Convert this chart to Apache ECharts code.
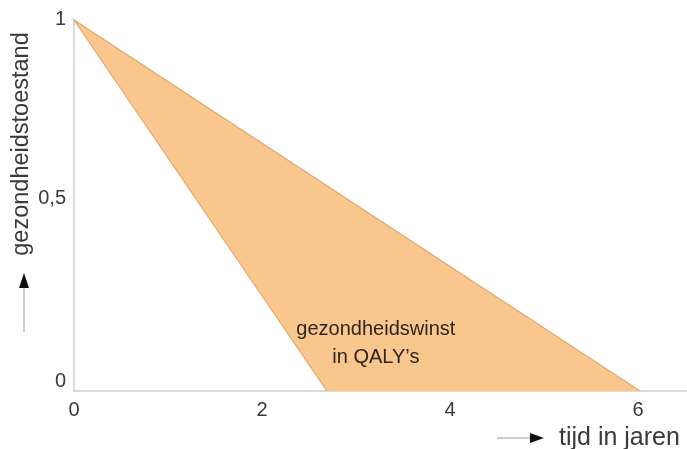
<!DOCTYPE html>
<html>
<head>
<meta charset="utf-8">
<script src="https://cdn.jsdelivr.net/npm/echarts@6/dist/echarts.min.js"></script>
<style>
html,body{margin:0;padding:0;background:#fff;}
#chart{width:687px;height:449px;}
</style>
</head>
<body>
<div id="chart"></div>
<script>
// Data
var xTicks = [0, 2, 4, 6];
var yTicks = [0, 0.5, 1];
var yTickLabels = ['0', '0,5', '1'];
// triangle vertices [tijd, gezondheidstoestand]
var apex = [0, 1];
var steepEnd = [2.69, 0];
var shallowEnd = [6.02, 0];
var areaLabel = 'gezondheidswinst\nin QALY\u2019s';
var labelPos = [3.2, 0.13];
var yName = 'gezondheidstoestand';
var xName = 'tijd in jaren';

var chart = echarts.init(document.getElementById('chart'));
var font = 'Liberation Sans, Arial, sans-serif';
var yLift = {0: 'b', 0.5: 'm', 1: 't'};

chart.setOption({
  animation: false,
  backgroundColor: '#fff',
  grid: {left: 74, right: 0, top: 20, bottom: 58},
  xAxis: {
    type: 'value', min: 0, max: 6.52, interval: 2,
    axisLine: {show: true, lineStyle: {color: '#cfcfcf', width: 1.5}},
    axisTick: {show: false},
    splitLine: {show: false},
    axisLabel: {
      fontSize: 20, color: '#3a3a3a', fontFamily: font, margin: 9,
      showMaxLabel: false,
      formatter: function (v) { return xTicks.indexOf(v) >= 0 ? String(v) : ''; }
    }
  },
  yAxis: {
    type: 'value', min: 0, max: 1, interval: 0.5,
    axisLine: {show: true, lineStyle: {color: '#cfcfcf', width: 1.5}},
    axisTick: {show: false},
    splitLine: {show: false},
    axisLabel: {
      fontSize: 20, color: '#3a3a3a', fontFamily: font, margin: 8,
      formatter: function (v) {
        var i = yTicks.indexOf(v);
        return i >= 0 ? '{' + yLift[v] + '|' + yTickLabels[i] + '}' : '';
      },
      rich: {
        b: {fontSize: 20, color: '#3a3a3a', fontFamily: font, padding: [0, 0, 20, 0]},
        m: {fontSize: 20, color: '#3a3a3a', fontFamily: font, padding: [0, 0, 14, 0]},
        t: {fontSize: 20, color: '#3a3a3a', fontFamily: font, padding: [0, 0, 2, 0]}
      }
    }
  },
  series: [{
    type: 'custom',
    coordinateSystem: 'cartesian2d',
    data: [[apex[0], apex[1]]],
    renderItem: function (params, api) {
      var a = api.coord(apex);
      var s = api.coord(steepEnd);
      var e = api.coord(shallowEnd);
      var t = api.coord(labelPos);
      return {
        type: 'group',
        children: [
          {type: 'polygon', shape: {points: [a, s, e]}, style: {fill: '#f9c68e', stroke: null}},
          {type: 'polyline', shape: {points: [s, a, e]}, style: {stroke: '#e2a66c', lineWidth: 1.2, fill: null}},
          {type: 'text', x: t[0] + 1, y: t[1] + 1, style: {
            text: areaLabel, fontSize: 20, fontFamily: font, fill: '#2e251d',
            align: 'center', verticalAlign: 'middle', lineHeight: 28
          }}
        ]
      };
    }
  }],
  graphic: [
    {type: 'text', x: 22, y: 144, rotation: Math.PI / 2, style: {
      text: yName, fontSize: 23.5, fontFamily: font, fill: '#3a3a3a',
      align: 'center', verticalAlign: 'middle'
    }},
    {type: 'line', shape: {x1: 24, y1: 332, x2: 24, y2: 287}, style: {stroke: '#bdbdbd', lineWidth: 1.5}},
    {type: 'polygon', shape: {points: [[19, 288], [29, 288], [24, 273]]}, style: {fill: '#111'}},
    {type: 'line', shape: {x1: 497, y1: 438, x2: 532, y2: 438}, style: {stroke: '#bdbdbd', lineWidth: 1.5}},
    {type: 'polygon', shape: {points: [[530, 433], [530, 443], [544, 438]]}, style: {fill: '#111'}},
    {type: 'text', x: 559, y: 438, style: {
      text: xName, fontSize: 25, fontFamily: font, fill: '#3a3a3a',
      align: 'left', verticalAlign: 'middle'
    }}
  ]
});
</script>
</body>
</html>
